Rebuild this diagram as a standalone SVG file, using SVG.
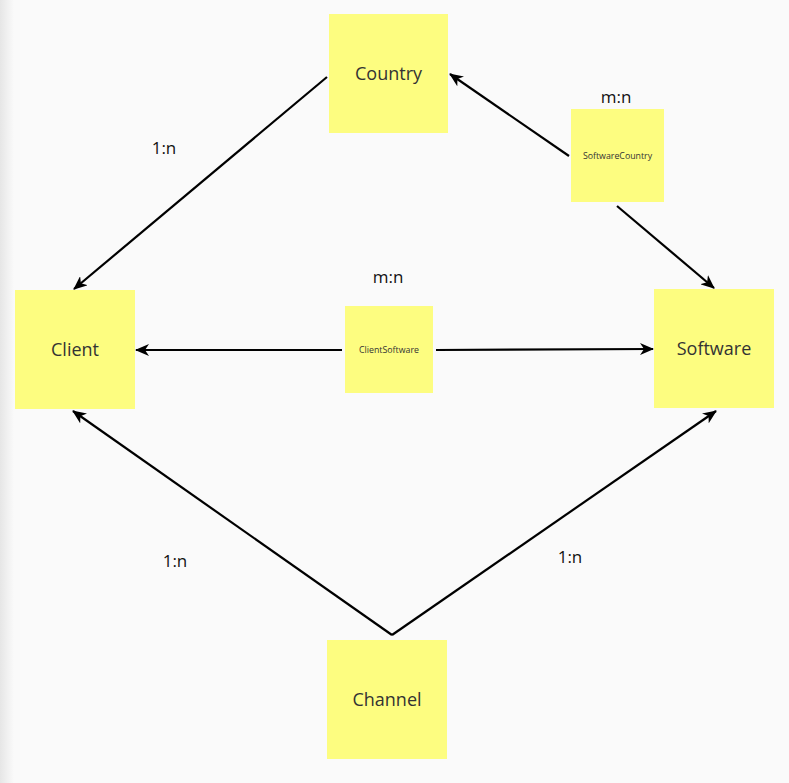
<svg xmlns="http://www.w3.org/2000/svg" width="789" height="783" viewBox="0 0 789 783">
<style>
.node{fill:#fdfd80}
.lbl{font-family:"Open Sans","Liberation Sans",sans-serif;fill:#333;text-anchor:middle}
.big{font-size:18px}
.small{font-size:8.8px}
.card{font-family:"Open Sans","Liberation Sans",sans-serif;font-size:17px;fill:#111;text-anchor:middle}
.edge{stroke:#000;stroke-width:2.2;fill:none;marker-end:url(#ah)}
</style>
<defs>
<linearGradient id="lg" x1="0" x2="1" y1="0" y2="0">
<stop offset="0" stop-color="#e6e6e6"/>
<stop offset="1" stop-color="#fafafa"/>
</linearGradient>
<marker id="ah" viewBox="0 0 14 12" refX="13" refY="6" markerWidth="14" markerHeight="12" markerUnits="userSpaceOnUse" orient="auto">
<path d="M0,0 L14,6 L0,12 L4,6 Z" fill="#000"/>
</marker>
</defs>
<rect width="789" height="783" fill="#fafafa"/>
<rect width="14" height="783" fill="url(#lg)"/>
<g id="connectors">
<line class="edge" x1="327" y1="77" x2="74" y2="289"/>
<line class="edge" x1="569" y1="156" x2="450" y2="74"/>
<line class="edge" x1="617" y1="206" x2="714" y2="288"/>
<line class="edge" x1="342" y1="350" x2="136" y2="350"/>
<line class="edge" x1="436" y1="350" x2="653" y2="349"/>
<line class="edge" x1="392" y1="635" x2="73" y2="411"/>
<line class="edge" x1="392" y1="635" x2="716" y2="411"/>
</g>
<g id="labels">
<text class="card" x="164" y="154">1:n</text>
<text class="card" x="388" y="283">m:n</text>
<text class="card" x="616" y="103">m:n</text>
<text class="card" x="175" y="567">1:n</text>
<text class="card" x="570" y="563">1:n</text>
</g>
<g id="Country"><rect class="node" x="329" y="14" width="119" height="119"/><text class="lbl big" x="388.5" y="80">Country</text></g>
<g id="Client"><rect class="node" x="15" y="290" width="120" height="119"/><text class="lbl big" x="75" y="356">Client</text></g>
<g id="Software"><rect class="node" x="654" y="289" width="120" height="119"/><text class="lbl big" x="714" y="355">Software</text></g>
<g id="Channel"><rect class="node" x="327" y="640" width="120" height="119"/><text class="lbl big" x="387" y="706">Channel</text></g>
<g id="SoftwareCountry"><rect class="node" x="571" y="109" width="93" height="93"/><text class="lbl small" x="617.5" y="159">SoftwareCountry</text></g>
<g id="ClientSoftware"><rect class="node" x="345" y="306" width="88" height="87"/><text class="lbl small" x="389" y="353">ClientSoftware</text></g>
</svg>
